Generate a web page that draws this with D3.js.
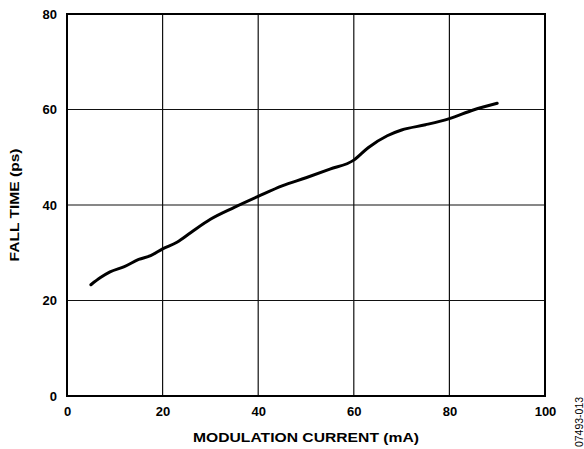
<!DOCTYPE html>
<html>
<head>
<meta charset="utf-8">
<script src="https://cdn.jsdelivr.net/npm/d3@7"></script>
<style>
  body { margin: 0; background: #fff; }
  svg text { font-family: Arial, "Liberation Sans", sans-serif; }
</style>
</head>
<body>
<div id="chart"></div>
<script>
const currentMA = [5, 7, 9, 12, 15, 17.5, 20, 23, 26, 30, 35, 40, 45, 50, 55, 60, 63, 67, 70, 75, 80, 85, 90];
const fallTimePs = [23.3, 24.8, 26.0, 27.1, 28.6, 29.4, 30.8, 32.2, 34.3, 37.0, 39.5, 41.8, 44.0, 45.7, 47.5, 49.4, 52.0, 54.5, 55.7, 56.8, 58.1, 59.9, 61.3];
const xTicks = [0, 20, 40, 60, 80, 100];
const yTicks = [0, 20, 40, 60, 80];

const width = 584, height = 449;
const margin = { top: 14, right: 39, bottom: 53, left: 67 };
const iw = width - margin.left - margin.right;
const ih = height - margin.top - margin.bottom;

const svg = d3.select('#chart').append('svg')
    .attr('width', width)
    .attr('height', height);

const g = svg.append('g')
    .attr('transform', `translate(${margin.left},${margin.top})`);

const x = d3.scaleLinear().domain([0, 100]).range([0, iw]);
const y = d3.scaleLinear().domain([0, 80]).range([ih, 0]);

// grid
g.append('g')
    .selectAll('line')
    .data(xTicks.slice(1, -1))
    .enter().append('line')
    .attr('x1', d => x(d)).attr('x2', d => x(d))
    .attr('y1', 0).attr('y2', ih)
    .attr('stroke', '#111').attr('stroke-width', 1.2);

g.append('g')
    .selectAll('line')
    .data(yTicks.slice(1, -1))
    .enter().append('line')
    .attr('y1', d => y(d)).attr('y2', d => y(d))
    .attr('x1', 0).attr('x2', iw)
    .attr('stroke', '#111').attr('stroke-width', 1.2);

// axes (labels only)
const xAxis = g.append('g')
    .attr('transform', `translate(0,${ih})`)
    .call(d3.axisBottom(x).tickValues(xTicks).tickSize(0).tickPadding(11));
const yAxis = g.append('g')
    .call(d3.axisLeft(y).tickValues(yTicks).tickSize(0).tickPadding(10));

[xAxis, yAxis].forEach(a => {
    a.select('.domain').remove();
    a.selectAll('text')
        .attr('font-size', 13)
        .attr('font-weight', 'bold')
        .attr('fill', '#000')
        .style('font-family', 'Arial, "Liberation Sans", sans-serif');
});

// frame
g.append('rect')
    .attr('width', iw).attr('height', ih)
    .attr('fill', 'none')
    .attr('stroke', '#000').attr('stroke-width', 2);

// curve
const line = d3.line()
    .x((d, i) => x(currentMA[i]))
    .y(d => y(d))
    .curve(d3.curveMonotoneX);

g.append('path')
    .datum(fallTimePs)
    .attr('d', line)
    .attr('fill', 'none')
    .attr('stroke', '#000')
    .attr('stroke-width', 3)
    .attr('stroke-linejoin', 'round')
    .attr('stroke-linecap', 'round');

// titles (reference glyphs are wider than plain Arial)
svg.append('text')
    .attr('x', margin.left + iw / 2)
    .attr('y', 441.5)
    .attr('text-anchor', 'middle')
    .attr('font-size', 13.5)
    .attr('font-weight', 'bold')
    .attr('textLength', 226)
    .attr('lengthAdjust', 'spacingAndGlyphs')
    .text('MODULATION CURRENT (mA)');

svg.append('text')
    .attr('transform', `translate(19,${margin.top + ih / 2}) rotate(-90)`)
    .attr('text-anchor', 'middle')
    .attr('font-size', 13.5)
    .attr('font-weight', 'bold')
    .attr('textLength', 113)
    .attr('lengthAdjust', 'spacingAndGlyphs')
    .text('FALL TIME (ps)');

svg.append('text')
    .attr('transform', 'translate(583,422) rotate(-90)')
    .attr('text-anchor', 'middle')
    .attr('font-size', 10.5)
    .text('07493-013');
</script>
</body>
</html>
